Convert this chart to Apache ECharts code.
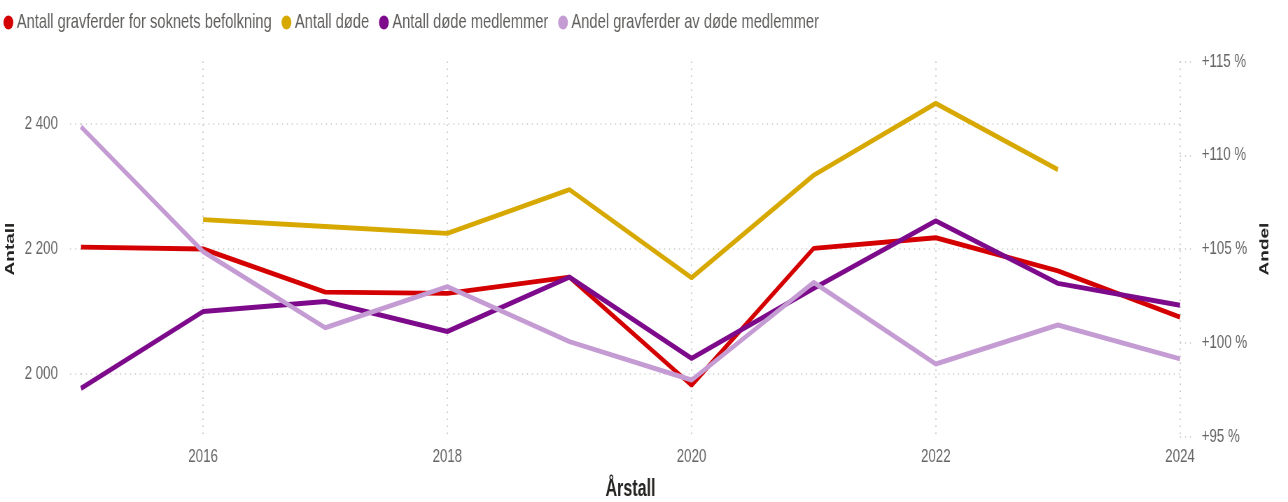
<!DOCTYPE html>
<html>
<head>
<meta charset="utf-8">
<script src="https://cdn.jsdelivr.net/npm/echarts@6/dist/echarts.min.js"></script>
<style>
html,body{margin:0;padding:0;background:#fff;overflow:hidden;width:1288px;height:502px;}
/* The reference is a horizontally compressed render: draw wide, then compress */
#chart{width:1840px;height:502px;transform:scaleX(0.7);transform-origin:0 0;}
</style>
</head>
<body>
<div id="chart"></div>
<script>
const years = ['2015','2016','2017','2018','2019','2020','2021','2022','2023','2024'];
const gravferder = [2203, 2200, 2131, 2129, 2155, 1982, 2201, 2218, 2165, 2091];
const antallDode = [null, 2247, 2236, 2225, 2295, 2154, 2318, 2433, 2327, null];
const dodeMedlemmer = [1977, 2100, 2116, 2068, 2155, 2025, 2137, 2245, 2145, 2110];
const andel = [111.52, 104.86, 100.80, 102.99, 100.06, 98.01, 103.22, 98.87, 100.95, 99.14];
const leftTicks = [2000, 2200, 2400];

const seriesNames = [
  'Antall gravferder for soknets befolkning',
  'Antall døde',
  'Antall døde medlemmer',
  'Andel gravferder av døde medlemmer'
];
const colors = ['#D40000', '#D6A800', '#7C0A8B', '#C49BD2'];

const sans = "'Liberation Sans', Arial, sans-serif";
const gridColor = '#c8c8c8';
const dotted = [1.5, 5.5];

const chart = echarts.init(document.getElementById('chart'));
chart.setOption({
  animation: false,
  color: colors,
  legend: {
    left: 0,
    top: 7,
    itemWidth: 14,
    itemHeight: 14,
    itemGap: 14,
    icon: 'circle',
    textStyle: { fontFamily: sans, fontSize: 21, color: '#605E5C' },
    data: seriesNames
  },
  grid: { left: 115.7, right: 154.3, top: 61.5, bottom: 65.5, containLabel: false, outerBoundsMode: 'none' },
  xAxis: {
    type: 'category',
    data: years,
    boundaryGap: false,
    name: 'Årstall',
    nameLocation: 'middle',
    nameGap: 42,
    nameTextStyle: { fontFamily: sans, fontSize: 23, fontWeight: 'bold', color: '#252423' },
    axisLine: { show: false },
    axisTick: { show: false },
    axisLabel: {
      interval: (i) => i % 2 === 1,
      fontFamily: sans, fontSize: 19, color: '#666', margin: 11
    },
    splitLine: {
      show: true,
      interval: (i) => i % 2 === 1,
      lineStyle: { color: gridColor, width: 1.8, type: dotted }
    }
  },
  yAxis: [
    {
      type: 'value',
      min: 1900, max: 2500, interval: 100,
      name: 'Antall',
      nameLocation: 'middle',
      nameGap: 88,
      nameTextStyle: { fontFamily: sans, fontSize: 19, fontWeight: 'bold', color: '#252423' },
      axisLine: { show: false },
      axisTick: {
        show: true, customValues: leftTicks, length: 17,
        lineStyle: { color: gridColor, width: 1.5, type: dotted }
      },
      axisLabel: {
        customValues: leftTicks,
        fontFamily: sans, fontSize: 19, color: '#666', margin: 33,
        formatter: (v) => String(v).replace(/\B(?=(\d{3})+(?!\d))/g, ' ')
      },
      splitLine: {
        show: true,
        lineStyle: { color: gridColor, width: 1.5, type: dotted }
      }
    },
    {
      type: 'value',
      min: 95, max: 115, interval: 5,
      position: 'right',
      name: 'Andel',
      nameLocation: 'middle',
      nameGap: 112,
      nameTextStyle: { fontFamily: sans, fontSize: 19, fontWeight: 'bold', color: '#252423' },
      axisLine: { show: false },
      axisTick: {
        show: true, length: 17,
        lineStyle: { color: gridColor, width: 1.5, type: dotted }
      },
      axisLabel: {
        fontFamily: sans, fontSize: 19, color: '#666', margin: 31,
        formatter: (v) => '+' + v + ' %'
      },
      splitLine: { show: false }
    }
  ],
  series: [
    { name: seriesNames[0], type: 'line', yAxisIndex: 0, data: gravferder, showSymbol: false, symbol: 'none', lineStyle: { width: 5 } },
    { name: seriesNames[1], type: 'line', yAxisIndex: 0, data: antallDode, showSymbol: false, symbol: 'none', lineStyle: { width: 5 } },
    { name: seriesNames[2], type: 'line', yAxisIndex: 0, data: dodeMedlemmer, showSymbol: false, symbol: 'none', lineStyle: { width: 5 } },
    { name: seriesNames[3], type: 'line', yAxisIndex: 1, data: andel, showSymbol: false, symbol: 'none', lineStyle: { width: 5 } }
  ]
});
</script>
</body>
</html>
